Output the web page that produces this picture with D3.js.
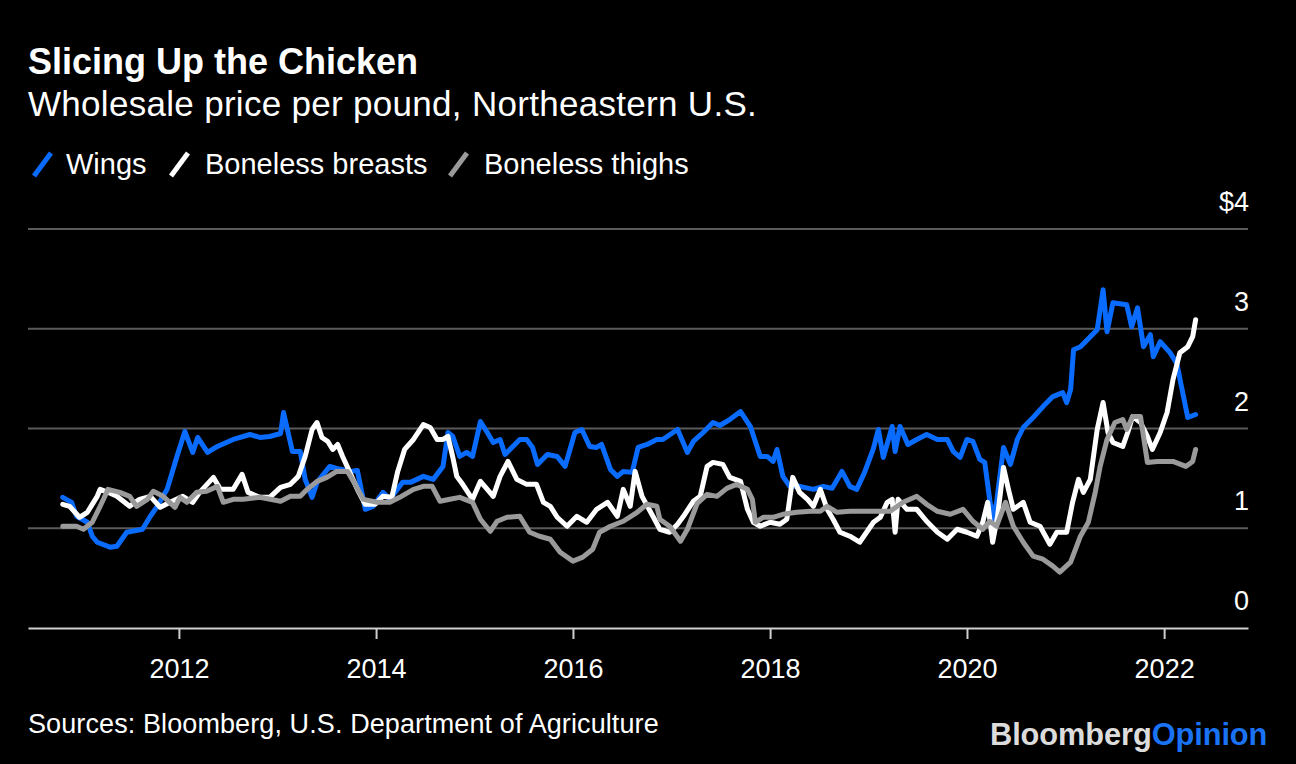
<!DOCTYPE html>
<html>
<head>
<meta charset="utf-8">
<script src="https://cdn.jsdelivr.net/npm/d3@7"></script>
<style>
  html, body { margin: 0; padding: 0; background: #000; }
  svg { display: block; font-family: "Liberation Sans", Arial, Helvetica, sans-serif; }
</style>
</head>
<body>
<svg id="chart" width="1296" height="764"></svg>
<script>
// ---- Data (decimal years, $ per pound) ----
const seriesNames = ["Wings", "Boneless breasts", "Boneless thighs"];
const yTickValues = [0, 1, 2, 3, 4];
const yTickLabels = ["0", "1", "2", "3", "$4"];
const xTickYears = [2012, 2014, 2016, 2018, 2020, 2022];

const wingsDates = [2010.82,2010.91,2010.96,2011.07,2011.12,2011.17,2011.30,2011.37,2011.47,2011.63,
2011.71,2011.78,2011.88,2011.98,2012.06,2012.14,2012.19,2012.29,2012.39,2012.55,
2012.72,2012.82,2012.92,2013.03,2013.06,2013.15,2013.23,2013.28,2013.35,2013.40,
2013.53,2013.60,2013.74,2013.81,2013.89,2013.97,2014.07,2014.14,2014.27,2014.35,
2014.48,2014.58,2014.68,2014.73,2014.78,2014.85,2014.92,2014.98,2015.06,2015.13,
2015.19,2015.26,2015.31,2015.39,2015.46,2015.53,2015.59,2015.64,2015.74,2015.84,
2015.92,2016.02,2016.09,2016.17,2016.24,2016.29,2016.38,2016.45,2016.51,2016.60,
2016.66,2016.75,2016.85,2016.91,2017.06,2017.16,2017.22,2017.32,2017.42,2017.49,
2017.59,2017.70,2017.80,2017.90,2017.97,2018.03,2018.07,2018.13,2018.20,2018.30,
2018.44,2018.54,2018.63,2018.73,2018.81,2018.88,2018.96,2019.05,2019.10,2019.15,
2019.24,2019.27,2019.32,2019.40,2019.49,2019.59,2019.70,2019.80,2019.86,2019.93,
2020.00,2020.06,2020.13,2020.18,2020.23,2020.26,2020.30,2020.37,2020.44,2020.51,
2020.57,2020.67,2020.77,2020.87,2020.97,2021.01,2021.05,2021.08,2021.15,2021.25,
2021.32,2021.38,2021.42,2021.48,2021.62,2021.67,2021.73,2021.79,2021.86,2021.89,
2021.96,2022.06,2022.13,2022.17,2022.24,2022.32];
const wingsValues = [1.31,1.26,1.12,1.06,0.92,0.86,0.81,0.82,0.96,0.99,
1.12,1.22,1.39,1.72,1.97,1.76,1.91,1.76,1.82,1.89,
1.94,1.91,1.92,1.95,2.16,1.77,1.77,1.49,1.31,1.46,
1.62,1.60,1.57,1.58,1.19,1.22,1.36,1.29,1.46,1.46,
1.52,1.49,1.62,1.96,1.92,1.72,1.76,1.72,2.07,1.96,
1.86,1.89,1.74,1.82,1.89,1.89,1.81,1.64,1.74,1.72,
1.62,1.96,1.99,1.82,1.81,1.84,1.59,1.52,1.57,1.56,
1.81,1.84,1.89,1.89,1.99,1.76,1.87,1.96,2.06,2.03,
2.09,2.17,2.02,1.72,1.72,1.67,1.79,1.52,1.42,1.42,
1.39,1.42,1.40,1.57,1.42,1.39,1.56,1.80,1.99,1.71,
2.02,1.77,2.02,1.84,1.89,1.94,1.89,1.89,1.77,1.71,
1.89,1.87,1.69,1.66,1.29,1.09,1.26,1.81,1.64,1.89,
2.01,2.11,2.22,2.32,2.36,2.26,2.39,2.79,2.82,2.92,
2.99,3.39,2.97,3.26,3.24,3.02,3.21,2.82,2.94,2.72,
2.87,2.76,2.65,2.45,2.11,2.14];

const breastsDates = [2010.82,2010.89,2010.99,2011.07,2011.17,2011.20,2011.28,2011.37,2011.50,2011.60,
2011.71,2011.81,2011.91,2012.04,2012.14,2012.21,2012.35,2012.42,2012.55,2012.64,
2012.70,2012.82,2012.92,2013.03,2013.13,2013.21,2013.28,2013.35,2013.40,2013.45,
2013.51,2013.56,2013.61,2013.66,2013.72,2013.81,2013.89,2013.99,2014.07,2014.16,
2014.22,2014.29,2014.38,2014.48,2014.55,2014.62,2014.68,2014.73,2014.78,2014.82,
2014.88,2014.98,2015.06,2015.13,2015.19,2015.26,2015.34,2015.43,2015.53,2015.63,
2015.70,2015.77,2015.84,2015.94,2016.04,2016.14,2016.24,2016.35,2016.45,2016.51,
2016.58,2016.63,2016.70,2016.81,2016.88,2016.98,2017.06,2017.12,2017.22,2017.29,
2017.36,2017.42,2017.52,2017.59,2017.70,2017.77,2017.83,2017.90,2018.00,2018.10,
2018.17,2018.23,2018.30,2018.38,2018.44,2018.51,2018.58,2018.64,2018.71,2018.81,
2018.91,2018.98,2019.05,2019.12,2019.19,2019.24,2019.27,2019.30,2019.39,2019.49,
2019.59,2019.70,2019.80,2019.90,2020.00,2020.10,2020.16,2020.21,2020.26,2020.31,
2020.37,2020.42,2020.47,2020.57,2020.64,2020.74,2020.84,2020.91,2021.01,2021.07,
2021.13,2021.18,2021.25,2021.32,2021.38,2021.43,2021.48,2021.58,2021.63,2021.68,
2021.76,2021.83,2021.88,2021.96,2022.03,2022.09,2022.16,2022.24,2022.29,2022.32];
const breastsValues = [1.24,1.22,1.11,1.16,1.32,1.39,1.36,1.32,1.22,1.29,
1.32,1.21,1.26,1.32,1.26,1.36,1.51,1.39,1.39,1.54,
1.36,1.31,1.31,1.41,1.44,1.52,1.72,1.99,2.06,1.91,
1.87,1.79,1.84,1.72,1.59,1.39,1.24,1.24,1.32,1.31,
1.57,1.79,1.89,2.04,2.01,1.89,1.89,1.92,1.71,1.52,
1.44,1.29,1.47,1.39,1.32,1.52,1.67,1.49,1.44,1.44,
1.26,1.22,1.11,1.02,1.12,1.06,1.19,1.26,1.12,1.39,
1.22,1.57,1.32,1.12,0.99,0.96,1.04,1.12,1.27,1.32,
1.62,1.66,1.64,1.51,1.47,1.19,1.06,1.02,1.06,1.04,
1.09,1.51,1.36,1.29,1.22,1.39,1.19,1.09,0.96,0.92,
0.86,0.96,1.06,1.11,1.26,1.29,0.96,1.29,1.19,1.19,
1.07,0.96,0.89,0.99,0.96,0.92,1.06,1.26,0.86,1.12,
1.61,1.39,1.19,1.26,1.06,1.02,0.84,0.96,0.96,1.26,
1.49,1.36,1.49,1.99,2.26,1.96,1.86,1.82,1.96,2.12,
2.06,1.92,1.79,1.96,2.16,2.49,2.76,2.82,2.92,3.09];

const thighsDates = [2010.82,2010.96,2011.03,2011.12,2011.20,2011.28,2011.40,2011.50,2011.57,2011.68,
2011.74,2011.84,2011.96,2012.01,2012.08,2012.18,2012.28,2012.39,2012.45,2012.55,
2012.65,2012.82,2013.03,2013.13,2013.23,2013.30,2013.40,2013.50,2013.60,2013.71,
2013.77,2013.87,2014.01,2014.14,2014.24,2014.38,2014.48,2014.57,2014.65,2014.75,
2014.85,2014.98,2015.06,2015.16,2015.23,2015.33,2015.46,2015.56,2015.66,2015.77,
2015.87,2016.00,2016.10,2016.20,2016.27,2016.38,2016.51,2016.65,2016.75,2016.85,
2016.88,2016.98,2017.09,2017.16,2017.26,2017.36,2017.46,2017.56,2017.66,2017.77,
2017.82,2017.85,2017.93,2018.03,2018.13,2018.27,2018.41,2018.51,2018.58,2018.68,
2018.81,2019.01,2019.22,2019.35,2019.49,2019.59,2019.70,2019.83,2019.96,2020.06,
2020.16,2020.23,2020.30,2020.39,2020.47,2020.57,2020.67,2020.77,2020.87,2020.94,
2021.05,2021.15,2021.23,2021.30,2021.35,2021.42,2021.50,2021.58,2021.62,2021.68,
2021.76,2021.83,2021.93,2022.09,2022.22,2022.29,2022.32];
const thighsValues = [1.02,1.02,0.99,1.06,1.22,1.39,1.36,1.32,1.22,1.29,
1.37,1.32,1.21,1.31,1.26,1.36,1.37,1.42,1.26,1.29,
1.29,1.31,1.27,1.32,1.32,1.39,1.47,1.51,1.57,1.57,
1.47,1.29,1.26,1.26,1.31,1.39,1.42,1.42,1.27,1.29,
1.31,1.26,1.09,0.97,1.07,1.11,1.12,0.96,0.92,0.89,
0.76,0.67,0.71,0.79,0.96,1.02,1.07,1.16,1.24,1.22,
1.09,1.02,0.87,0.99,1.25,1.34,1.32,1.40,1.44,1.39,
1.29,1.06,1.11,1.11,1.14,1.16,1.17,1.17,1.22,1.16,
1.17,1.17,1.17,1.26,1.32,1.24,1.17,1.14,1.19,1.07,
0.99,1.07,1.02,1.26,1.02,0.86,0.72,0.69,0.62,0.56,
0.66,0.92,1.06,1.36,1.62,1.89,2.06,2.09,1.99,2.12,
2.12,1.66,1.67,1.67,1.62,1.67,1.79];

const seriesColors = ["#0a6cff", "#ffffff", "#9a9a9a"];

// ---- Helpers ----
function toDate(y) {
  const yr = Math.floor(y);
  const s = new Date(yr, 0, 1), e = new Date(yr + 1, 0, 1);
  return new Date(+s + (y - yr) * (e - s));
}
function zipSeries(dates, values) {
  return dates.map((d, i) => ({ date: toDate(d), value: values[i] }));
}
const series = [
  zipSeries(wingsDates, wingsValues),
  zipSeries(breastsDates, breastsValues),
  zipSeries(thighsDates, thighsValues)
];

// ---- Layout ----
const svg = d3.select("#chart");
const W = 1296, H = 764;
svg.append("rect").attr("width", W).attr("height", H).attr("fill", "#000");

const plotLeft = 28, plotRight = 1248, plotTop = 229, plotBottom = 628;

const x = d3.scaleTime()
  .domain([toDate(2010.467), toDate(2022.852)])
  .range([plotLeft, plotRight]);
const y = d3.scaleLinear().domain([0, 4]).range([plotBottom, plotTop]);

// Title etc.
svg.append("text").attr("x", 28).attr("y", 74)
  .attr("fill", "#fff").attr("font-size", 36).attr("font-weight", "bold")
  .text("Slicing Up the Chicken");
svg.append("text").attr("x", 28).attr("y", 116)
  .attr("fill", "#fff").attr("font-size", 35)
  .attr("letter-spacing", 0.3)
  .text("Wholesale price per pound, Northeastern U.S.");

// Legend
const legendItems = [
  { name: seriesNames[0], color: seriesColors[0], iconX: 34, textX: 66 },
  { name: seriesNames[1], color: seriesColors[1], iconX: 171, textX: 205 },
  { name: seriesNames[2], color: seriesColors[2], iconX: 450, textX: 484 }
];
const lg = svg.append("g");
legendItems.forEach(it => {
  lg.append("line")
    .attr("x1", it.iconX).attr("y1", 176)
    .attr("x2", it.iconX + 17).attr("y2", 153)
    .attr("stroke", it.color).attr("stroke-width", 5);
  lg.append("text").attr("x", it.textX).attr("y", 174)
    .attr("fill", "#fff").attr("font-size", 29)
    .text(it.name);
});

// Gridlines
const grid = svg.append("g");
grid.selectAll("line.g")
  .data(yTickValues.filter(v => v > 0))
  .join("line")
  .attr("x1", plotLeft).attr("x2", plotRight)
  .attr("y1", d => y(d)).attr("y2", d => y(d))
  .attr("stroke", "#5a5a5a").attr("stroke-width", 2);

// Y labels (right side, above lines)
svg.append("g").selectAll("text")
  .data(yTickValues)
  .join("text")
  .attr("x", 1249).attr("y", d => y(d) - 18)
  .attr("text-anchor", "end")
  .attr("fill", "#fff").attr("font-size", 27)
  .text((d, i) => yTickLabels[i]);

// X axis
const xAxis = d3.axisBottom(x)
  .tickValues(xTickYears.map(yr => new Date(yr, 0, 1)))
  .tickFormat(d3.timeFormat("%Y"))
  .tickSize(11)
  .tickSizeOuter(0);
const xg = svg.append("g").attr("transform", `translate(0,${plotBottom})`).call(xAxis);
xg.select(".domain").attr("stroke", "#cfcfcf").attr("stroke-width", 2);
xg.selectAll(".tick line").attr("stroke", "#cfcfcf").attr("stroke-width", 2);
xg.selectAll(".tick text")
  .attr("fill", "#fff").attr("font-size", 27)
  .attr("font-family", "'Liberation Sans', Arial, sans-serif")
  .attr("dy", 0).attr("y", 50);

// Lines
const line = d3.line().x(d => x(d.date)).y(d => y(d.value));
const lines = svg.append("g");
series.forEach((s, i) => {
  lines.append("path")
    .datum(s)
    .attr("fill", "none")
    .attr("stroke", seriesColors[i])
    .attr("stroke-width", 5)
    .attr("stroke-linejoin", "round")
    .attr("stroke-linecap", "round")
    .attr("d", line);
});

// Footer
svg.append("text").attr("x", 28).attr("y", 733)
  .attr("fill", "#fff").attr("font-size", 27)
  .attr("letter-spacing", 0.1)
  .text("Sources: Bloomberg, U.S. Department of Agriculture");

const logo = svg.append("text").attr("x", 990).attr("y", 745)
  .attr("font-size", 30.8).attr("font-weight", "bold")
  .attr("letter-spacing", -0.1);
logo.append("tspan").attr("fill", "#dcdcdc").text("Bloomberg");
logo.append("tspan").attr("fill", "#1a72f5").text("Opinion");
</script>
</body>
</html>
